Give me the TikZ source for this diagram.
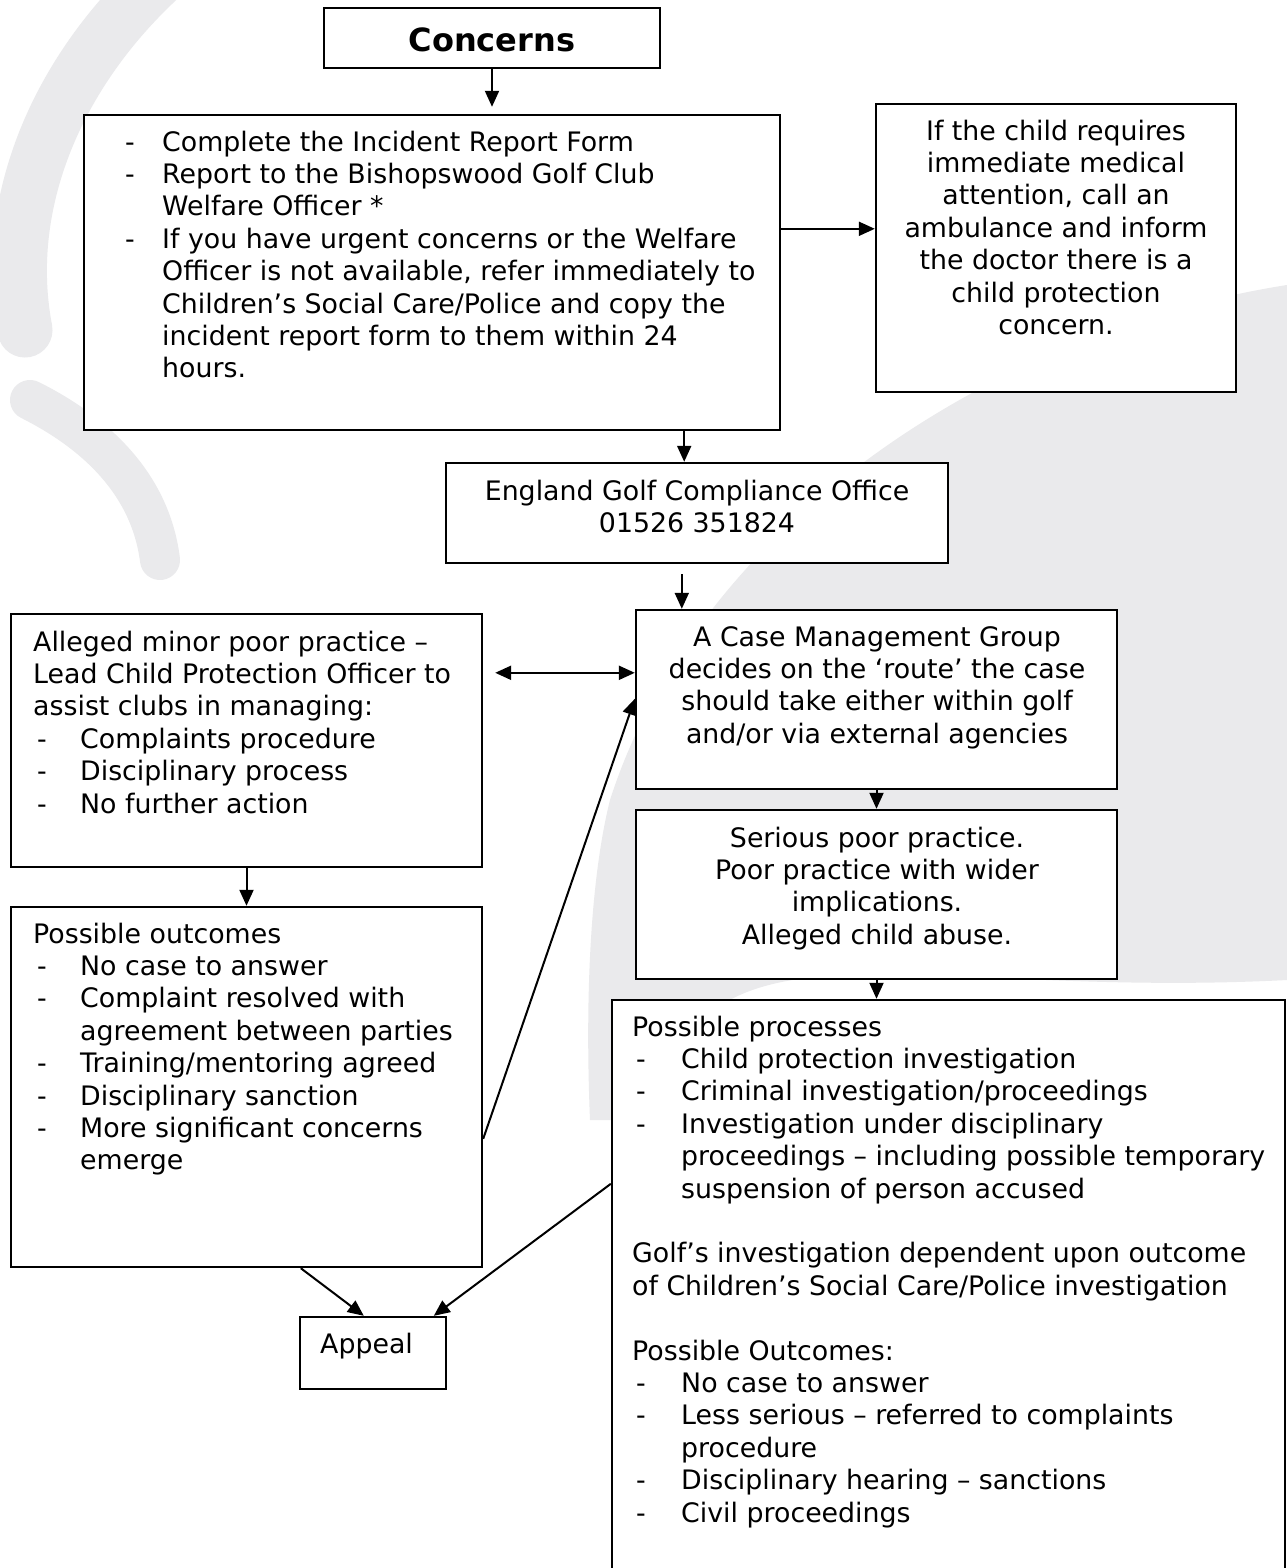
\documentclass[tikz,border=0pt]{standalone}
\usepackage{fontspec}
\setmainfont{DejaVu Sans}
\usetikzlibrary{arrows.meta}
\definecolor{wm}{RGB}{234,234,236}
\tikzset{
  box/.style={draw=black, line width=2.4pt, fill=white, inner sep=0pt},
  txt/.style={inner sep=0pt, font=\fontsize{26.8}{32.4}\selectfont},
  conn/.style={line width=2pt, -{Triangle[length=16pt,width=14pt]}},
  dconn/.style={line width=2.2pt, {Triangle[length=16pt,width=14pt]}-{Triangle[length=16pt,width=14pt]}}
}
\newcommand\mybox[5]{\node[box,minimum width={#4-#2},minimum height={#5-#3}] (#1) at ({(#2+#4)/2},{(#3+#5)/2}) {};}
\newcommand\dsh[1]{\makebox[#1][l]{-}}
\begin{document}
\begin{tikzpicture}[x=1pt,y=-1pt]
\useasboundingbox (0,0) rectangle (1287,1568);
\clip (0,0) rectangle (1287,1568);
\fill[white] (0,0) rectangle (1287,1568);
% watermark
\draw[wm, line width=55pt, line cap=round] (180,-40) .. controls (60,60) and (0,200) .. (25,330);
\draw[wm, line width=40pt, line cap=round] (30,400) .. controls (90,430) and (150,480) .. (160,560);
\fill[wm] (1287,285) .. controls (1000,330) and (700,520) .. (610,800) .. controls (590,880) and (585,1000) .. (590,1120) -- (650,1120) .. controls (700,900) and (900,1000) .. (1287,980) -- cycle;
% boxes
\mybox{concerns}{324}{8}{660}{68}
\mybox{main}{84}{115}{780}{430}
\mybox{medical}{876}{104}{1236}{392}
\mybox{england}{446}{463}{948}{563}
\mybox{case}{636}{610}{1117}{789}
\mybox{minor}{11}{614}{482}{867}
\mybox{outc}{11}{907}{482}{1267}
\mybox{serious}{636}{810}{1117}{979}
\mybox{procs}{612}{1000}{1285}{1640}
\mybox{appeal}{300}{1317}{446}{1389}
% texts
\node[inner sep=0pt, anchor=base, font=\fontsize{32}{36}\selectfont\bfseries] (tconcerns) at (492,52) {Concerns};
\node[txt, anchor=base west] (tmain) at (125,151) {\begin{tabular}[t]{@{}l@{}}
\dsh{37pt}Complete the Incident Report Form\\
\dsh{37pt}Report to the Bishopswood Golf Club\\
\hspace{37pt}Welfare Officer *\\
\dsh{37pt}If you have urgent concerns or the Welfare\\
\hspace{37pt}Officer is not available, refer immediately to\\
\hspace{37pt}Children’s Social Care/Police and copy the\\
\hspace{37pt}incident report form to them within 24\\
\hspace{37pt}hours.
\end{tabular}};
\node[txt, anchor=base] (tmedical) at (1056,140) {\begin{tabular}[t]{@{}c@{}}
If the child requires\\ immediate medical\\ attention, call an\\ ambulance and inform\\ the doctor there is a\\ child protection\\ concern.
\end{tabular}};
\node[txt, anchor=base] (tengland) at (697,500) {\begin{tabular}[t]{@{}c@{}}
England Golf Compliance Office\\ 01526 351824
\end{tabular}};
\node[txt, anchor=base] (tcase) at (877,646) {\begin{tabular}[t]{@{}c@{}}
A Case Management Group\\ decides on the ‘route’ the case\\ should take either within golf\\ and/or via external agencies
\end{tabular}};
\node[txt, anchor=base] (tserious) at (877,847) {\begin{tabular}[t]{@{}c@{}}
Serious poor practice.\\ Poor practice with wider\\ implications.\\ Alleged child abuse.
\end{tabular}};
\node[txt, anchor=base west] (tminor) at (33,651) {\begin{tabular}[t]{@{}l@{}}
Alleged minor poor practice –\\
Lead Child Protection Officer to\\
assist clubs in managing:\\
\hspace{4pt}\dsh{43pt}Complaints procedure\\
\hspace{4pt}\dsh{43pt}Disciplinary process\\
\hspace{4pt}\dsh{43pt}No further action
\end{tabular}};
\node[txt, anchor=base west] (toutc) at (33,943) {\begin{tabular}[t]{@{}l@{}}
Possible outcomes\\
\hspace{4pt}\dsh{43pt}No case to answer\\
\hspace{4pt}\dsh{43pt}Complaint resolved with\\
\hspace{47pt}agreement between parties\\
\hspace{4pt}\dsh{43pt}Training/mentoring agreed\\
\hspace{4pt}\dsh{43pt}Disciplinary sanction\\
\hspace{4pt}\dsh{43pt}More significant concerns\\
\hspace{47pt}emerge
\end{tabular}};
\node[txt, anchor=base west] (tprocs) at (632,1036) {\begin{tabular}[t]{@{}l@{}}
Possible processes\\
\hspace{4pt}\dsh{45pt}Child protection investigation\\
\hspace{4pt}\dsh{45pt}Criminal investigation/proceedings\\
\hspace{4pt}\dsh{45pt}Investigation under disciplinary\\
\hspace{49pt}proceedings – including possible temporary\\
\hspace{49pt}suspension of person accused\\
\\
Golf’s investigation dependent upon outcome\\
of Children’s Social Care/Police investigation\\
\\
Possible Outcomes:\\
\hspace{4pt}\dsh{45pt}No case to answer\\
\hspace{4pt}\dsh{45pt}Less serious – referred to complaints\\
\hspace{49pt}procedure\\
\hspace{4pt}\dsh{45pt}Disciplinary hearing – sanctions\\
\hspace{4pt}\dsh{45pt}Civil proceedings
\end{tabular}};
\node[txt, anchor=base west] (tappeal) at (320,1353) {Appeal};
% connectors
\draw[conn, shorten >=7pt] (concerns.south) -- (concerns.south |- main.north);
\draw[conn] ([yshift=-115pt]main.north east) -- ([yshift=-126pt]medical.north west);
\draw[conn] ([xshift=-97pt]main.south east) -- ([xshift=-97pt]main.south east |- england.north);
\draw[conn, shorten <=10pt] ([xshift=237pt]england.south west) -- ([xshift=47pt]case.north west);
\draw[dconn, shorten <=12pt] ([yshift=-60pt]minor.north east) -- ([yshift=-64pt]case.north west);
\draw[conn] (case.south) -- (serious.north);
\draw[conn] (serious.south) -- (serious.south |- procs.north);
\draw[conn] (minor.south) -- (outc.north);
\draw[conn] ([yshift=-233pt]outc.north east) -- ([yshift=-90pt]case.north west);
\draw[conn] ([xshift=291pt]outc.south west) -- ([xshift=65pt]appeal.north west);
\draw[conn] ([yshift=-185pt]procs.north west) -- ([xshift=135pt]appeal.north west);
\end{tikzpicture}
\end{document}
